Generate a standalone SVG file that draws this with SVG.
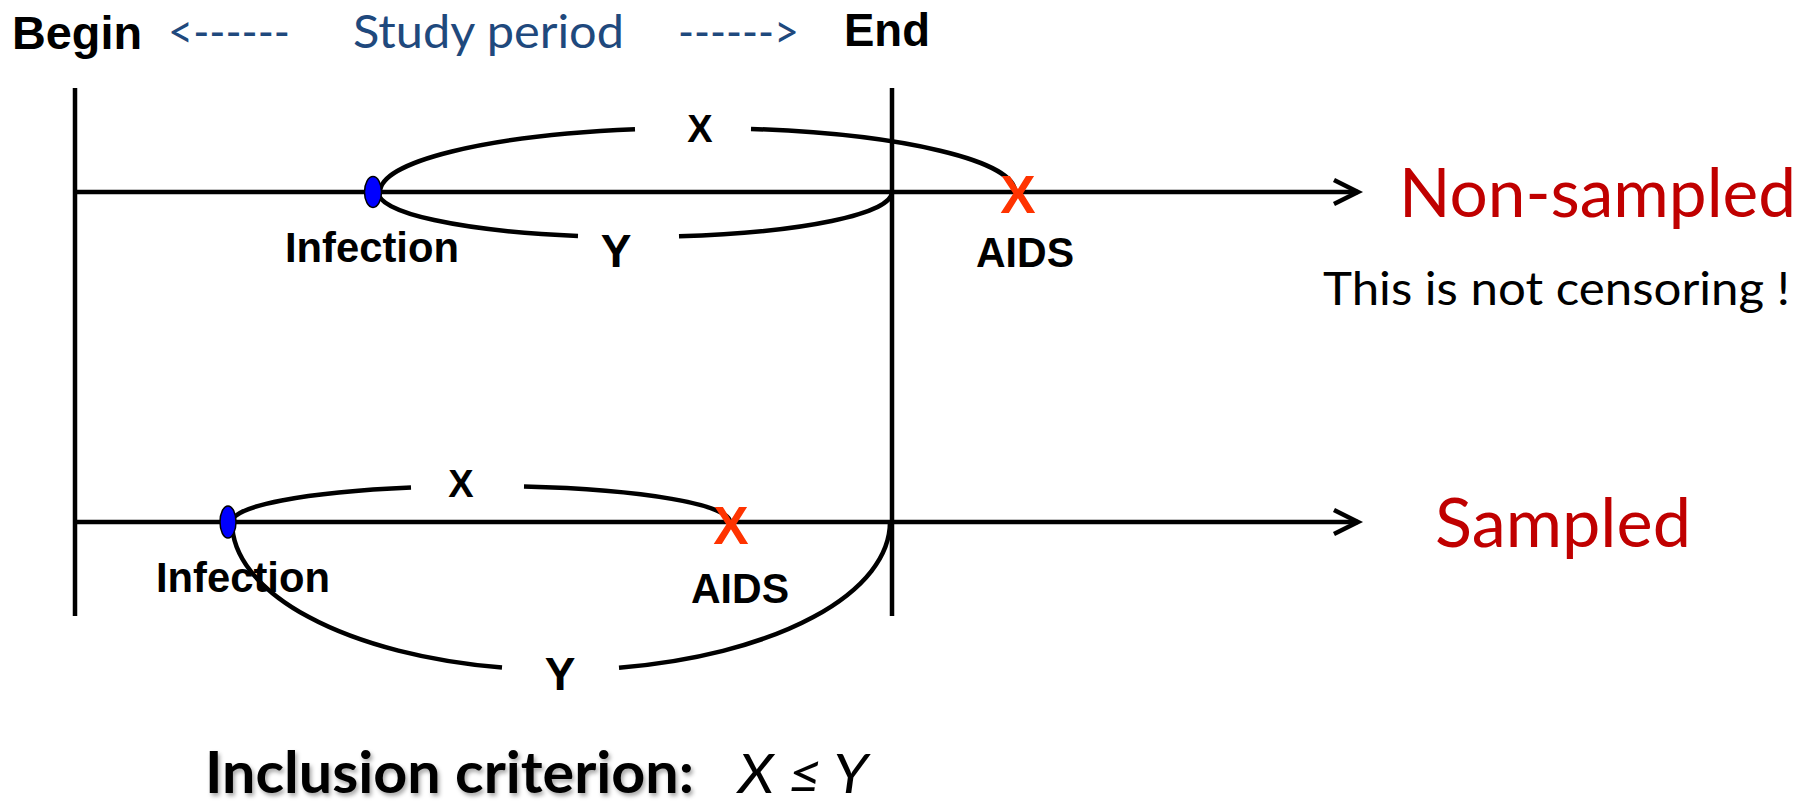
<svg xmlns="http://www.w3.org/2000/svg" width="1814" height="806" viewBox="0 0 1814 806">
<style>
.ln{stroke:#000;stroke-width:4.5;fill:none}
.arc{stroke:#000;stroke-width:4.5;fill:none}
.b{font-family:"Liberation Sans",Arial,sans-serif;font-weight:bold;fill:#000}
.lbl{font-family:"Liberation Sans",Arial,sans-serif;font-weight:bold;fill:#000;text-anchor:middle}
.cx{font-family:"Liberation Sans",Arial,sans-serif;font-weight:bold;fill:#FF3300;text-anchor:middle;font-size:53px}
.cal{font-family:Lato,"Open Sans",sans-serif}
.blue{fill:#1F497D;font-size:46px}
.red{fill:#C00000;font-size:67px}
.dot{fill:#0000FF;stroke:#000;stroke-width:1.5}
</style>
<defs>
<marker id="arr" markerUnits="userSpaceOnUse" markerWidth="40" markerHeight="40" viewBox="0 0 40 40" refX="30" refY="20" orient="auto">
<polyline points="6,8 30,20 6,32" fill="none" stroke="#000" stroke-width="4.5"/>
</marker>
<filter id="sh" x="-5%" y="-20%" width="110%" height="150%">
<feDropShadow dx="2" dy="3" stdDeviation="2" flood-color="#000" flood-opacity="0.35"/>
</filter>
</defs>
<g id="header">
<text class="b" x="12" y="49" font-size="46" textLength="130" lengthAdjust="spacingAndGlyphs">Begin</text>
<text class="cal blue" x="168" y="48" textLength="122" lengthAdjust="spacingAndGlyphs">&lt;------</text>
<text class="cal blue" x="353" y="48" textLength="271" lengthAdjust="spacingAndGlyphs">Study period</text>
<text class="cal blue" x="678" y="48" textLength="121" lengthAdjust="spacingAndGlyphs">------&gt;</text>
<text class="b" x="844" y="46" font-size="46" textLength="86" lengthAdjust="spacingAndGlyphs">End</text>
</g>
<g id="connectors">
<line class="ln" x1="75" y1="88" x2="75" y2="616"/>
<line class="ln" x1="892" y1="88" x2="892" y2="616"/>
<line class="ln" x1="75" y1="192" x2="1358" y2="192" marker-end="url(#arr)"/>
<line class="ln" x1="75" y1="522" x2="1358" y2="522" marker-end="url(#arr)"/>
<path class="arc" d="M380,192 A317.5,64 0 0 1 635,129.25"/>
<path class="arc" d="M751,128.92 A317.5,64 0 0 1 1015,192"/>
<path class="arc" d="M378,192 A257,45 0 0 0 578,235.88"/>
<path class="arc" d="M679,236.33 A257,45 0 0 0 892,192"/>
<path class="arc" d="M232,522 A249,36 0 0 1 411,487.45"/>
<path class="arc" d="M524,486.54 A249,36 0 0 1 730,522"/>
<path class="arc" d="M232,522 A329,148 0 0 0 502,667.6"/>
<path class="arc" d="M619,667.7 A329,148 0 0 0 890,522"/>
</g>
<g id="nonsampled">
<ellipse class="dot" cx="373" cy="192" rx="8.5" ry="15.5"/>
<text class="lbl" x="372" y="262" font-size="42" textLength="174" lengthAdjust="spacingAndGlyphs">Infection</text>
<text class="lbl" x="700" y="142" font-size="38">X</text>
<text class="lbl" x="616" y="267" font-size="46">Y</text>
<text class="cx" x="1018" y="213">X</text>
<text class="lbl" x="1025" y="267" font-size="42" textLength="98" lengthAdjust="spacingAndGlyphs">AIDS</text>
<text class="cal red" x="1399" y="217" textLength="397" lengthAdjust="spacingAndGlyphs">Non-sampled</text>
<text class="cal" x="1323" y="305" font-size="46" fill="#000" textLength="467" lengthAdjust="spacingAndGlyphs">This is not censoring !</text>
</g>
<g id="sampled">
<ellipse class="dot" cx="228" cy="522" rx="8" ry="16"/>
<text class="lbl" x="243" y="592" font-size="42" textLength="174" lengthAdjust="spacingAndGlyphs">Infection</text>
<text class="lbl" x="461" y="497" font-size="38">X</text>
<text class="cx" x="731" y="544">X</text>
<text class="lbl" x="740" y="603" font-size="42" textLength="98" lengthAdjust="spacingAndGlyphs">AIDS</text>
<text class="lbl" x="560" y="690" font-size="46">Y</text>
<text class="cal red" x="1435" y="547" textLength="256" lengthAdjust="spacingAndGlyphs">Sampled</text>
</g>
<g id="criterion">
<text class="cal" x="205" y="793" font-size="57" font-weight="bold" fill="#000" filter="url(#sh)" textLength="489" lengthAdjust="spacingAndGlyphs">Inclusion criterion:</text>
<text class="cal" x="738" y="793" font-size="55" font-style="italic" fill="#000" textLength="130" lengthAdjust="spacingAndGlyphs">X ≤ Y</text>
</g>
</svg>
